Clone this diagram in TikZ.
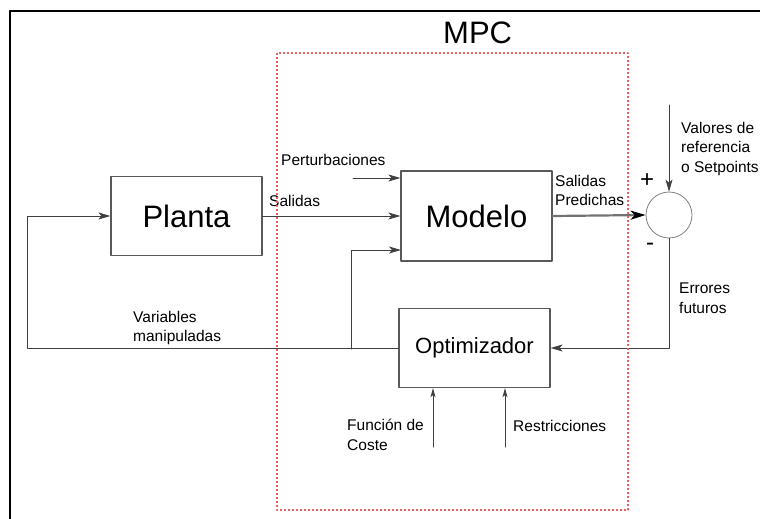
\documentclass[tikz,border=0pt]{standalone}
\usepackage{fontspec}
\setmainfont{Liberation Sans}
\usetikzlibrary{arrows.meta}
\definecolor{rojompc}{RGB}{236,96,96}

\begin{document}
\begin{tikzpicture}[line cap=round,line join=round,x=1pt,y=-1pt,
  >={Stealth[length=12pt,width=7pt,inset=3pt]},
  bloque/.style={draw=black!65,line width=1.2pt,minimum width=151pt,inner sep=0pt},
  etiqueta/.style={inner sep=0pt,font=\fontsize{15.5}{19.5}\selectfont,align=left},
  linea/.style={draw=black!75,line width=1pt}]
\useasboundingbox (0,0) rectangle (760,519);
\clip (0,0) rectangle (760,519);
%\draw[help lines] (0,0) grid (760,519);
\draw [line width=1.6pt] (10,11) rectangle (775,535);
% bloques
\node[bloque,minimum height=79pt,font=\fontsize{31}{36}\selectfont] (planta) at (186.5,216) {Planta};
\node[bloque,minimum height=90pt,font=\fontsize{31}{36}\selectfont] (modelo) at (476.5,216) {Modelo};
\node[bloque,minimum height=79pt,font=\fontsize{22}{26}\selectfont] (optim) at (474.5,348) {Optimizador};
\node[circle,draw=black!50,line width=0.8pt,minimum size=46pt,inner sep=0pt] (suma) at (669,215) {};
% puntos libres
\coordinate (fb) at (27,349);
\coordinate (rama) at (351,349);
\coordinate (m3) at (401,250);
\coordinate (pert) at (353,178);
\coordinate (sp) at (669,105);
\coordinate (fc) at (433,447);
\coordinate (rs) at (505,447);
% conexiones
\draw [linea,->] (optim.west) -| (fb |- planta.west) -- (planta.west);
\draw [linea,->] (rama) |- (m3);
\draw [linea,->] (planta.east) -- (planta.east -| modelo.west);
\draw [linea,->] (pert) -- (pert -| modelo.west);
\draw [linea,draw=black!55,line width=2.2pt,-{Stealth[length=15pt,width=9pt,inset=4pt,black]}] (modelo.east) -- (suma.west);
\draw [linea,->] (sp) -- (suma.north);
\draw [linea,->] (suma.south) |- (optim.east);
\draw [linea,-{Stealth[length=9pt,width=5pt,inset=2pt]}] (fc) -- (fc |- optim.south);
\draw [linea,-{Stealth[length=9pt,width=5pt,inset=2pt]}] (rs) -- (rs |- optim.south);
% textos
\node[anchor=base west,font=\fontsize{31}{36}\selectfont,inner sep=0pt] (mpc) at (443,44) {MPC};
\node[etiqueta,anchor=base west] (tpert) at (281,165) {Perturbaciones};
\node[etiqueta,anchor=base west] (tsal) at (269,206) {Salidas};
\node[etiqueta,anchor=north west] (tpred) at (555,175) {Salidas\\Predichas};
\node[etiqueta,anchor=north west] (tref) at (681,122) {Valores de\\referencia\\o Setpoints};
\node[etiqueta,anchor=north west] (terr) at (679,283) {Errores\\futuros};
\node[etiqueta,anchor=north west] (tvar) at (133,311) {Variables\\manipuladas};
\node[etiqueta,anchor=north west] (tfun) at (347,419) {Función de\\Coste};
\node[etiqueta,anchor=base west] (tres) at (513,431) {Restricciones};
\node[font=\fontsize{24}{26}\selectfont,inner sep=0pt] (mas) at (647,181) {+};
\node[font=\fontsize{24}{26}\selectfont,inner sep=0pt] (menos) at (650,247) {-};
% caja MPC
\draw [rojompc,line width=1.8pt,line cap=butt,dash pattern=on 2pt off 2pt] (277,53) rectangle (628,510);
\end{tikzpicture}
\end{document}
